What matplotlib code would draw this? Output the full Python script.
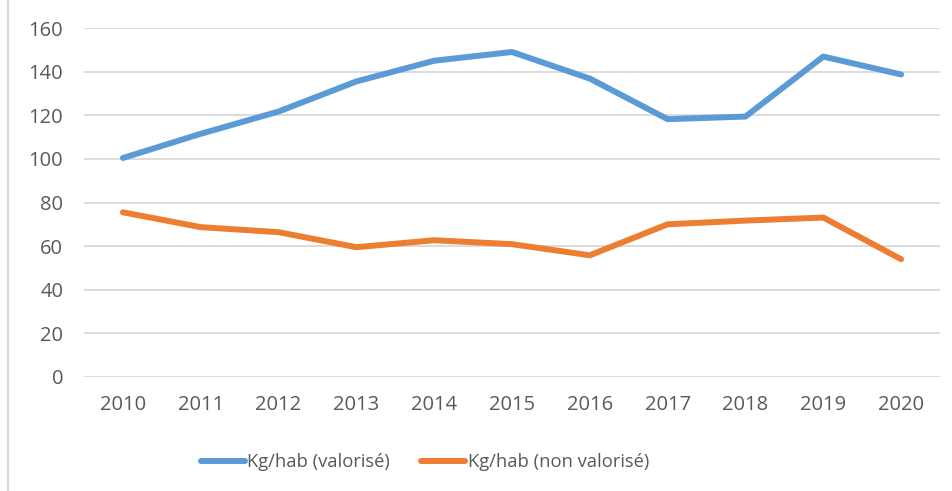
import matplotlib
matplotlib.use("Agg")
import matplotlib.pyplot as plt

years = ["2010", "2011", "2012", "2013", "2014", "2015", "2016", "2017", "2018", "2019", "2020"]
valorise = [100.4, 111.5, 121.7, 135.5, 145.0, 149.0, 136.8, 118.2, 119.4, 146.9, 138.7]
non_valorise = [75.5, 68.7, 66.4, 59.5, 62.7, 60.9, 55.8, 70.0, 71.7, 73.1, 54.0]
labels = ["Kg/hab (valorisé)", "Kg/hab (non valorisé)"]

plt.rcParams["font.family"] = ["Open Sans", "DejaVu Sans"]
text_col = "#595959"

fig = plt.figure(figsize=(9.52, 4.91), dpi=100)
ax = fig.add_axes([84 / 952, 1 - 377 / 491, (940 - 84) / 952, (377 - 28) / 491])

x = range(len(years))
ax.plot(x, valorise, color="#5B9BD5", lw=4.3, solid_capstyle="round", solid_joinstyle="round", label=labels[0])
ax.plot(x, non_valorise, color="#ED7D31", lw=4.3, solid_capstyle="round", solid_joinstyle="round", label=labels[1])

ax.set_xlim(-0.5, len(years) - 0.5)
ax.set_ylim(0, 160)
ax.set_yticks(range(0, 161, 20))
ax.set_xticks(list(x))
ax.set_xticklabels(years)
ax.yaxis.grid(True, color="#D9D9D9", lw=1.3)
ax.set_axisbelow(True)
for s in ax.spines.values():
    s.set_visible(False)
ax.tick_params(axis="y", length=0, pad=15, labelsize=14.5, labelcolor=text_col)
ax.tick_params(axis="x", length=0, pad=13, labelsize=14.5, labelcolor=text_col)

# light border line on the left of the chart area
fig.add_artist(plt.Line2D([8 / 952, 8 / 952], [0, 1], color="#D9D9D9", lw=1.5))

fig.legend(loc="center", bbox_to_anchor=(425 / 952, 1 - 462 / 491), ncol=2, frameon=False,
           fontsize=13.2, labelcolor=text_col, handlelength=2.4, handletextpad=0.15,
           columnspacing=1.7)

fig.savefig("out.png", dpi=100)
